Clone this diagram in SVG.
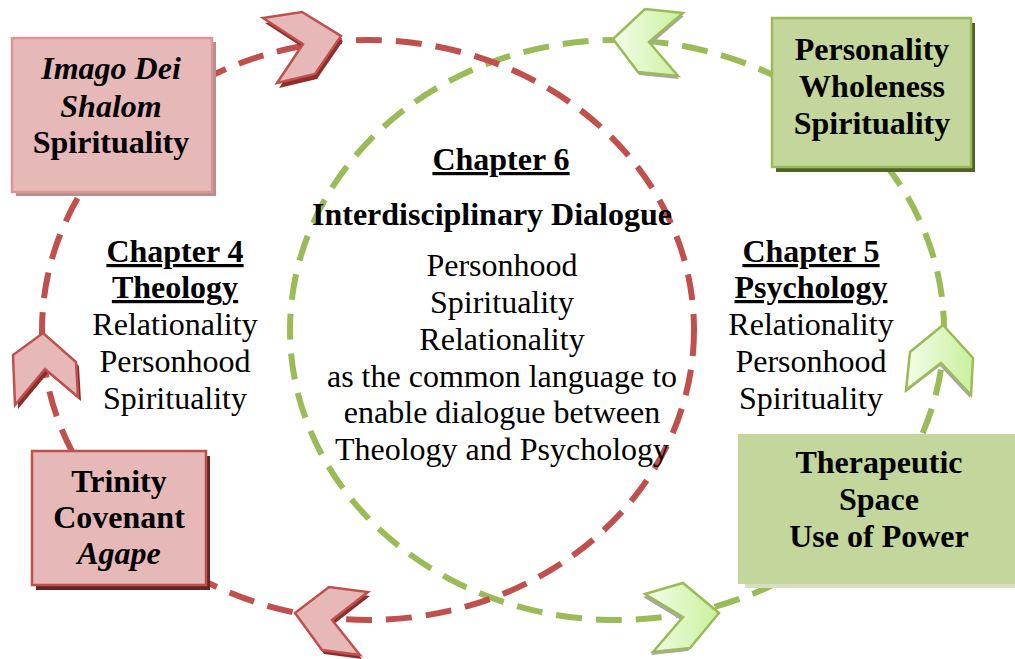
<svg xmlns="http://www.w3.org/2000/svg" width="1015" height="659" viewBox="0 0 1015 659">
  <style>
    text { font-family: "Liberation Serif", "Times New Roman", serif; font-size: 32px; fill: #000; text-anchor: middle; }
    .b { font-weight: bold; }
    .bi { font-weight: bold; font-style: italic; }
    .u { text-decoration: underline; }
    .ring { fill: none; stroke-width: 6; stroke-dasharray: 26 14; }
    .ring-red { stroke: #c0504d; }
    .ring-green { stroke: #9bbb59; }
    .chev-red { fill: #e6b9b8; stroke: #c0504d; stroke-width: 2.5; stroke-linejoin: miter; }
    .chev-red-sh { fill: #8c2f2c; }
    .chev-green { fill: url(#gGreen); stroke: #9bbb59; stroke-width: 2.5; stroke-linejoin: miter; }
    .chev-green-sh { fill: #a6a6a6; }
    .box-red { fill: #e6b9b8; }
    .box-green { fill: #c3d69b; }
  </style>
  <defs>
    <linearGradient id="gGreen" x1="0" y1="0" x2="1" y2="0">
      <stop offset="0" stop-color="#f3fdea"/>
      <stop offset="1" stop-color="#caf09c"/>
    </linearGradient>
  </defs>

  <rect width="1015" height="659" fill="#fff"/>

  <!-- dashed rings -->
  <g id="connectors">
    <ellipse class="ring ring-green" cx="617" cy="330" rx="327" ry="290"/>
    <ellipse class="ring ring-red" cx="368" cy="330" rx="326" ry="290"/>
  </g>

  <!-- chevrons sitting on the rings -->
  <g id="chevron-red-top">
    <polygon class="chev-red-sh" points="265,23 304,17 343,41 317,79 279,88 305,49"/>
    <polygon class="chev-red" points="263,18 302,12 341,36 315,74 277,83 303,44"/>
  </g>
  <g id="chevron-green-top">
    <polygon class="chev-green-sh" points="614,42 646,12 684,16 650,45 679,79 639,75"/>
    <polygon class="chev-green" points="613,39 645,9 683,13 649,42 678,76 638,72"/>
  </g>
  <g id="chevron-red-left">
    <polygon class="chev-red-sh" points="46,337 79,366 81,401 48,373 18,409 16,359"/>
    <polygon class="chev-red" points="43,333 76,362 78,397 45,369 15,405 13,355"/>
  </g>
  <g id="chevron-green-right">
    <polygon class="chev-green-sh" points="942,328 972,361 970,398 940,366 905,393 909,355"/>
    <polygon class="chev-green" points="943,325 973,358 971,395 941,363 906,390 910,352"/>
  </g>
  <g id="chevron-red-bottom">
    <polygon class="chev-red-sh" points="297,617 331,591 370,596 334,624 362,659 324,654"/>
    <polygon class="chev-red" points="295,613 329,587 368,592 332,620 360,655 322,650"/>
  </g>
  <g id="chevron-green-bottom">
    <polygon class="chev-green-sh" points="643,597 681,586 717,616 688,651 651,655 681,620"/>
    <polygon class="chev-green" points="645,594 683,583 719,613 690,648 653,652 683,617"/>
  </g>

  <!-- theology boxes -->
  <g id="box-imago-dei">
    <rect x="16" y="42" width="200" height="154" fill="#b98d8c"/>
    <rect class="box-red" x="12" y="38" width="200" height="154" stroke="#d99694" stroke-width="2.5"/>
    <text class="bi" x="111" y="79">Imago Dei</text>
    <text class="bi" x="111" y="117">Shalom</text>
    <text class="b" x="111" y="153">Spirituality</text>
  </g>
  <g id="box-trinity">
    <rect x="36" y="456" width="174" height="134" fill="#632523"/>
    <rect class="box-red" x="32" y="451" width="174" height="134" stroke="#c0504d" stroke-width="2.5"/>
    <text class="b" x="119" y="492">Trinity</text>
    <text class="b" x="119" y="528">Covenant</text>
    <text class="bi" x="119" y="564">Agape</text>
  </g>

  <!-- psychology boxes -->
  <g id="box-personality">
    <rect x="776" y="23" width="199" height="149" fill="#4f6228"/>
    <rect class="box-green" x="772" y="18" width="199" height="149" stroke="#9bbb59" stroke-width="2.5"/>
    <text class="b" x="872" y="60">Personality</text>
    <text class="b" x="872" y="97">Wholeness</text>
    <text class="b" x="872" y="134">Spirituality</text>
  </g>
  <g id="box-therapeutic">
    <rect x="745" y="440" width="270" height="148" fill="#d6dfc4"/>
    <rect class="box-green" x="738" y="434" width="277" height="150"/>
    <text class="b" x="879" y="473">Therapeutic</text>
    <text class="b" x="879" y="510">Space</text>
    <text class="b" x="879" y="547">Use of Power</text>
  </g>

  <!-- chapter labels -->
  <g id="chapter-4">
    <text class="b u" x="175" y="262">Chapter 4</text>
    <text class="b u" x="175" y="298">Theology</text>
    <text x="175" y="335">Relationality</text>
    <text x="175" y="372">Personhood</text>
    <text x="175" y="409">Spirituality</text>
  </g>
  <g id="chapter-5">
    <text class="b u" x="811" y="262">Chapter 5</text>
    <text class="b u" x="811" y="298">Psychology</text>
    <text x="811" y="335">Relationality</text>
    <text x="811" y="372">Personhood</text>
    <text x="811" y="409">Spirituality</text>
  </g>
  <g id="chapter-6">
    <text class="b u" x="501" y="170">Chapter 6</text>
    <text class="b" x="492" y="225">Interdisciplinary Dialogue</text>
    <text x="502" y="276">Personhood</text>
    <text x="502" y="313">Spirituality</text>
    <text x="502" y="350">Relationality</text>
    <text x="502" y="387">as the common language to</text>
    <text x="502" y="423">enable dialogue between</text>
    <text x="502" y="460">Theology and Psychology</text>
  </g>
</svg>
